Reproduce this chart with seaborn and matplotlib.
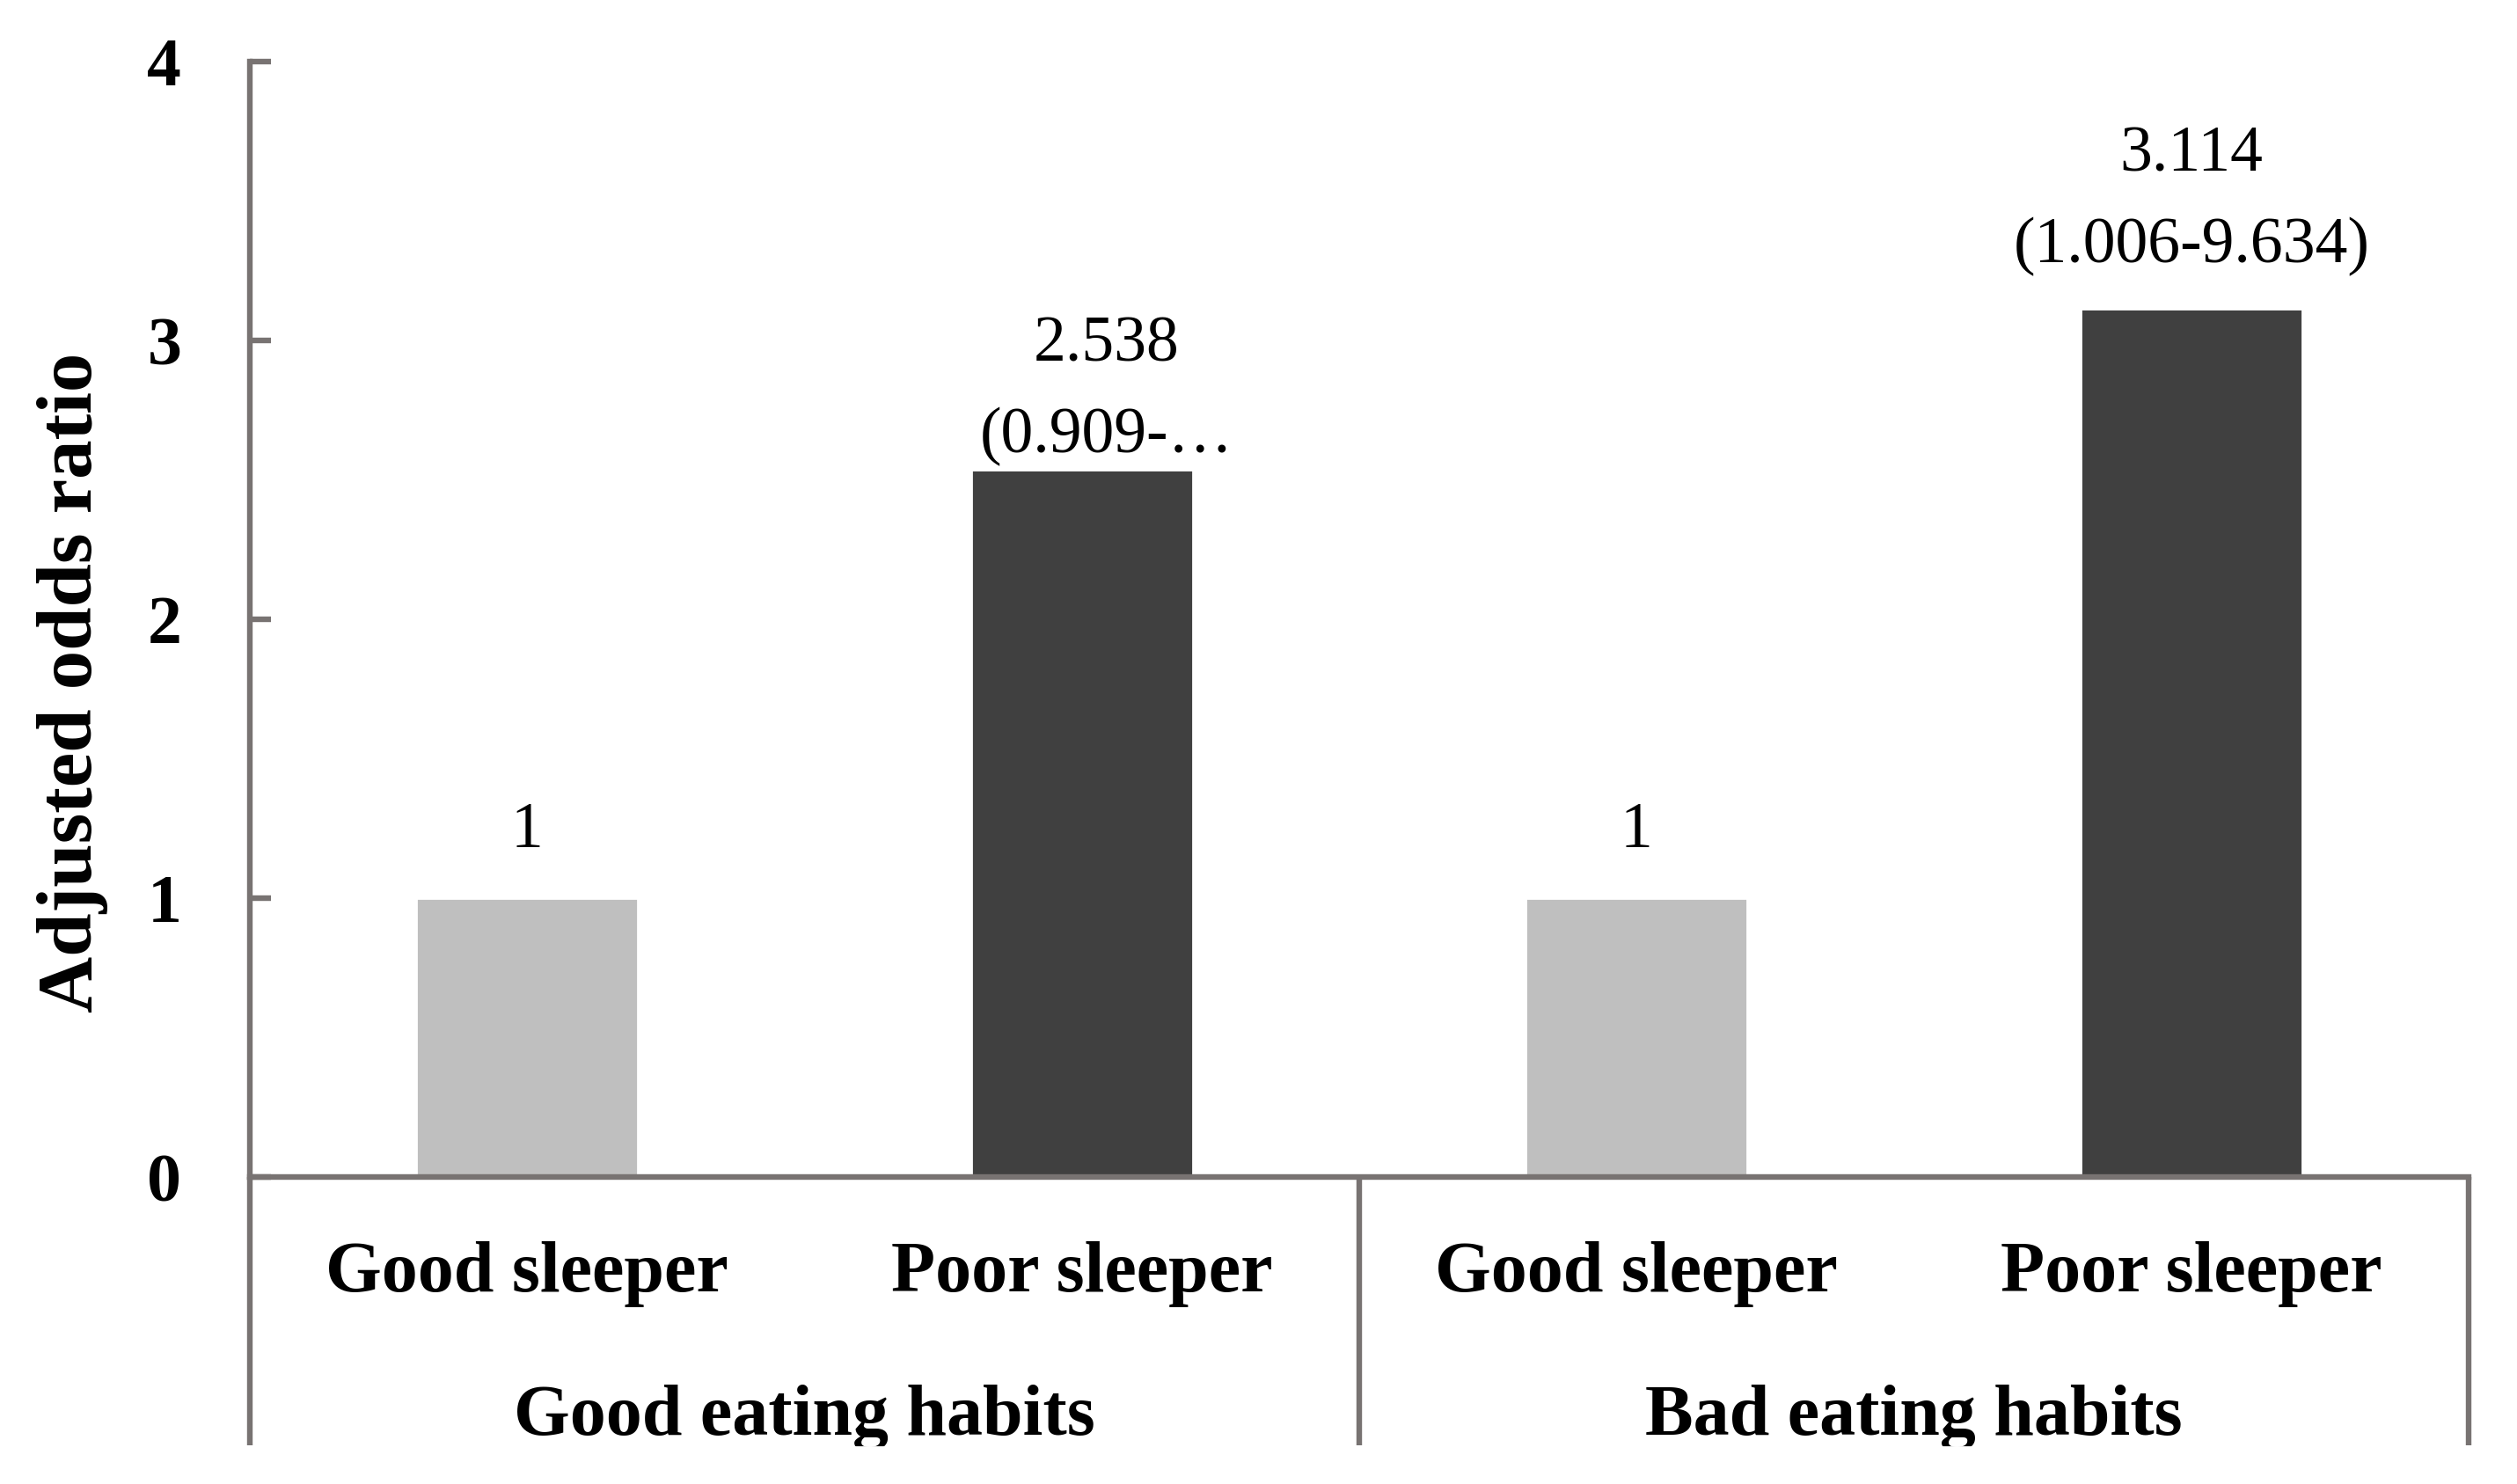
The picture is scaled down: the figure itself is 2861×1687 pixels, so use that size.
import pandas as pd
import matplotlib.pyplot as plt
import seaborn as sns
from matplotlib.patches import Rectangle

# data
eating = ["Good eating habits", "Good eating habits", "Bad eating habits", "Bad eating habits"]
sleeper = ["Good sleeper", "Poor sleeper", "Good sleeper", "Poor sleeper"]
odds = [1, 2.538, 1, 3.114]
bar_labels = ["1", "2.538\n(0.909-\u2026", "1", "3.114\n(1.006-9.634)"]
groups = ["Good eating habits", "Bad eating habits"]
yticks = [0, 1, 2, 3, 4]

df = pd.DataFrame({"eating": eating, "sleeper": sleeper, "odds": odds})
df["cell"] = df["eating"] + " / " + df["sleeper"]

sns.set_theme(style="white")
plt.rcParams["font.family"] = ["Liberation Serif", "DejaVu Serif"]
plt.rcParams["text.color"] = "black"
plt.rcParams["xtick.color"] = "black"
plt.rcParams["ytick.color"] = "black"

axis_color = "#787372"
axis_lw = 2.3

fig = plt.figure(figsize=(14.305, 8.435), dpi=200)
ax = fig.add_axes([0.0993, 0.2066, 0.8815, 0.7519])

sns.barplot(data=df, x="cell", y="odds", hue="sleeper",
            palette={"Good sleeper": "#bfbfbf", "Poor sleeper": "#404040"},
            dodge=False, width=0.4, saturation=1, errorbar=None,
            legend=False, ax=ax)

ax.set_xlim(-0.5, 3.5)
ax.set_ylim(0, 4)
ax.set_yticks(yticks)
ax.set_yticklabels([str(t) for t in yticks], fontsize=28, fontweight="bold")
ax.tick_params(axis="y", direction="in", length=8.6, width=axis_lw, color=axis_color,
               labelcolor="black", pad=28, left=True)
ax.set_xticks(range(len(sleeper)))
ax.set_xticklabels(sleeper, fontsize=29.5, fontweight="bold")
ax.tick_params(axis="x", length=0, pad=26, labelcolor="black")
ax.set_xlabel("")
ax.set_ylabel("")

for side in ["top", "right"]:
    ax.spines[side].set_visible(False)
for side in ["left", "bottom"]:
    ax.spines[side].set_color(axis_color)
    ax.spines[side].set_linewidth(axis_lw)

# separators of the two-level category axis
for xpos in [-0.5, 1.5, 3.5]:
    ax.plot([xpos, xpos], [0, -0.24], transform=ax.get_xaxis_transform(),
            clip_on=False, color=axis_color, lw=axis_lw, solid_capstyle="butt")

for i, g in enumerate(groups):
    ax.text(i * 2 + 0.5, -0.2308, g, transform=ax.get_xaxis_transform(),
            ha="center", va="baseline", fontsize=29.5, fontweight="bold")

# value labels
offsets = [(0, 21), (10, 7), (0, 21), (0, 19)]
for i, (v, lab) in enumerate(zip(odds, bar_labels)):
    ax.annotate(lab, (i, v), xytext=offsets[i], textcoords="offset points",
                ha="center", va="baseline", fontsize=26.5, linespacing=1.7)

fig.text(83 / 2861, 1 - 776 / 1687, "Adjusted odds ratio", rotation=90,
         ha="center", va="center", fontsize=32, fontweight="bold")

# bottom edge of the reference is cut off
fig.patches.append(Rectangle((0, 0), 1, 42 / 1687, transform=fig.transFigure,
                             color="white", zorder=10))

fig.savefig("out.png", dpi=200, facecolor="white")
